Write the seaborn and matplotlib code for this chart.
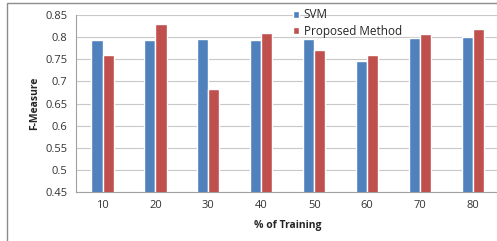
import matplotlib
matplotlib.use('Agg')
import matplotlib.pyplot as plt
import seaborn as sns
import pandas as pd
from matplotlib.patches import Rectangle

# Data
training = ['10', '20', '30', '40', '50', '60', '70', '80']
svm = [0.793, 0.793, 0.795, 0.793, 0.796, 0.745, 0.799, 0.800]
proposed = [0.760, 0.829, 0.682, 0.809, 0.771, 0.760, 0.806, 0.818]
methods = ['SVM', 'Proposed Method']

df = pd.DataFrame({
    'Training': training * 2,
    'F-Measure': svm + proposed,
    'Method': [methods[0]] * len(training) + [methods[1]] * len(training),
})

sns.set_style('white')
plt.rcParams['font.family'] = ['Open Sans', 'DejaVu Sans']

fig = plt.figure(figsize=(4.97, 2.41), dpi=100)
ax = fig.add_axes([0.153, 0.203, 0.852, 0.735])

# outer chart border
fig.patches.append(Rectangle((0.014, -0.05), 1.1, 1.037, transform=fig.transFigure,
                             fill=False, edgecolor='#8c8c8c', linewidth=1.0))

sns.barplot(data=df, x='Training', y='F-Measure', hue='Method',
            palette=['#4F81BD', '#C0504D'], width=0.42, saturation=1,
            ax=ax, zorder=3)

ax.set_ylim(0.45, 0.85)
ax.set_yticks([0.45, 0.5, 0.55, 0.6, 0.65, 0.7, 0.75, 0.8, 0.85])
ax.set_yticklabels(['0.45', '0.5', '0.55', '0.6', '0.65', '0.7', '0.75', '0.8', '0.85'])
ax.yaxis.grid(True, color='#c8c8c8', linewidth=0.8, zorder=0)
ax.set_axisbelow(True)
for s in ['top', 'right']:
    ax.spines[s].set_visible(False)
ax.spines['left'].set_color('#a0a0a0')
ax.spines['bottom'].set_color('#a0a0a0')
ax.tick_params(axis='y', length=4, color='#a0a0a0', labelsize=8, pad=2, labelcolor='#333333')
ax.tick_params(axis='x', length=0, labelsize=8, pad=6, labelcolor='#333333')

ax.set_xlabel('% of Training', fontsize=7.5, fontweight='bold', labelpad=6)
ax.set_ylabel('F-Measure', fontsize=7.5, fontweight='bold', labelpad=4)

handles, labels = ax.get_legend_handles_labels()
ax.legend_.remove()
fig.legend(handles, labels, loc='upper left', bbox_to_anchor=(0.572, 1.0),
           frameon=False, fontsize=8.5, handlelength=0.55, handleheight=0.55,
           handletextpad=0.4, labelspacing=0.3, borderpad=0.2)

fig.savefig('out.png', dpi=100)
